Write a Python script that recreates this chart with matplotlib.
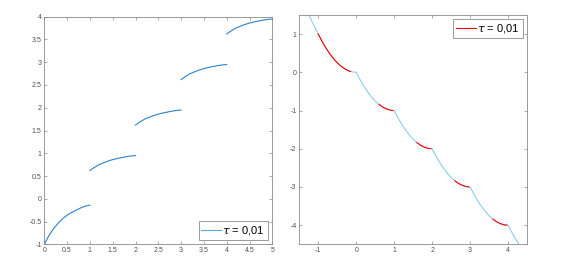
import matplotlib
matplotlib.use("Agg")
import matplotlib.pyplot as plt

plt.rcParams["font.family"] = ["Liberation Sans", "DejaVu Sans"]

# left panel: five pieces, one per unit interval
left_x = [
    [0.0, 0.1, 0.2, 0.3, 0.4, 0.5, 0.6, 0.7, 0.8, 0.9, 1.0],
    [1.0, 1.1, 1.2, 1.3, 1.4, 1.5, 1.6, 1.7, 1.8, 1.9, 2.0],
    [2.0, 2.1, 2.2, 2.3, 2.4, 2.5, 2.6, 2.7, 2.8, 2.9, 3.0],
    [3.0, 3.1, 3.2, 3.3, 3.4, 3.5, 3.6, 3.7, 3.8, 3.9, 4.0],
    [4.0, 4.1, 4.2, 4.3, 4.4, 4.5, 4.6, 4.7, 4.8, 4.9, 5.0],
]
left_y = [
    [-1.0, -0.81, -0.66, -0.54, -0.44, -0.36, -0.30, -0.25, -0.20, -0.16, -0.14],
    [0.62, 0.69, 0.75, 0.79, 0.83, 0.86, 0.885, 0.905, 0.925, 0.94, 0.95],
    [1.62, 1.69, 1.75, 1.79, 1.83, 1.86, 1.885, 1.905, 1.925, 1.94, 1.95],
    [2.62, 2.69, 2.75, 2.79, 2.83, 2.86, 2.885, 2.905, 2.925, 2.94, 2.95],
    [3.62, 3.69, 3.75, 3.79, 3.83, 3.86, 3.885, 3.905, 3.925, 3.94, 3.95],
]
left_xticks = [0, 0.5, 1, 1.5, 2, 2.5, 3, 3.5, 4, 4.5, 5]
left_xlabels = ["0", "0.5", "1", "1.5", "2", "2.5", "3", "3.5", "4", "4.5", "5"]
left_yticks = [-1, -0.5, 0, 0.5, 1, 1.5, 2, 2.5, 3, 3.5, 4]
left_ylabels = ["-1", "-0.5", "0", "0.5", "1", "1.5", "2", "2.5", "3", "3.5", "4"]

# right panel: full curve (light blue)
right_x = [-1.25, -1.2, -1.1,
           -1.0, -0.9, -0.8, -0.7, -0.6, -0.5, -0.4, -0.3, -0.2, -0.1,
           0.0, 0.1, 0.2, 0.3, 0.4, 0.5, 0.6, 0.7, 0.8, 0.9,
           1.0, 1.1, 1.2, 1.3, 1.4, 1.5, 1.6, 1.7, 1.8, 1.9,
           2.0, 2.1, 2.2, 2.3, 2.4, 2.5, 2.6, 2.7, 2.8, 2.9,
           3.0, 3.1, 3.2, 3.3, 3.4, 3.5, 3.6, 3.7, 3.8, 3.9,
           4.0, 4.1, 4.2, 4.3]
right_y = [1.5, 1.4, 1.2,
           1.0, 0.81, 0.64, 0.49, 0.36, 0.25, 0.16, 0.09, 0.04, 0.01,
           0.0, -0.19, -0.36, -0.51, -0.64, -0.75, -0.84, -0.91, -0.96, -0.99,
           -1.0, -1.19, -1.36, -1.51, -1.64, -1.75, -1.84, -1.91, -1.96, -1.99,
           -2.0, -2.19, -2.36, -2.51, -2.64, -2.75, -2.84, -2.91, -2.96, -2.99,
           -3.0, -3.19, -3.36, -3.51, -3.64, -3.75, -3.84, -3.91, -3.96, -3.99,
           -4.0, -4.19, -4.36, -4.51]

# right panel: red pieces
red_x = [
    [-1.0, -0.9, -0.8, -0.7, -0.6, -0.5, -0.4, -0.3, -0.2, -0.15],
    [0.6, 0.7, 0.8, 0.9, 0.97],
    [1.6, 1.7, 1.8, 1.9, 1.97],
    [2.6, 2.7, 2.8, 2.9, 2.97],
    [3.6, 3.7, 3.8, 3.9, 3.97],
]
red_y = [
    [1.0, 0.81, 0.64, 0.49, 0.36, 0.25, 0.16, 0.09, 0.04, 0.02],
    [-0.84, -0.91, -0.96, -0.99, -1.0],
    [-1.84, -1.91, -1.96, -1.99, -2.0],
    [-2.84, -2.91, -2.96, -2.99, -3.0],
    [-3.84, -3.91, -3.96, -3.99, -4.0],
]
right_xticks = [-1, 0, 1, 2, 3, 4]
right_yticks = [-4, -3, -2, -1, 0, 1]

legend_label = r"$\tau$ = 0,01"

blue = "#2a85cc"
light_blue = "#7cc8ec"
frame = "#8a8a8a"

fig = plt.figure(figsize=(5.67, 2.66), dpi=100)
ax1 = fig.add_axes([44.3 / 567, 1 - 244.3 / 266, 228 / 567, 227.6 / 266])
ax2 = fig.add_axes([299.3 / 567, 1 - 244.3 / 266, 227.7 / 567, 229.3 / 266])


def style(ax):
    for sp in ax.spines.values():
        sp.set_color(frame)
        sp.set_linewidth(0.6)
    ax.tick_params(direction="in", length=2.5, width=0.5, color=frame,
                   labelsize=5, labelcolor="#505050", pad=2,
                   top=True, right=True)


for xs, ys in zip(left_x, left_y):
    h1, = ax1.plot(xs, ys, color=blue, lw=0.8)
ax1.set_xlim(0, 5)
ax1.set_ylim(-1, 4)
ax1.set_xticks(left_xticks, left_xlabels)
ax1.set_yticks(left_yticks, left_ylabels)
style(ax1)
leg_h1, = ax1.plot([], [], color="#5aa6e0", lw=0.8)
l1 = ax1.legend([leg_h1], [legend_label], loc="lower right", fontsize=8,
                handlelength=1.8, handletextpad=0.1, borderpad=0.25,
                borderaxespad=0.4, fancybox=False, framealpha=1)
l1.get_frame().set_edgecolor(frame)
l1.get_frame().set_linewidth(0.6)

ax2.plot(right_x, right_y, color=light_blue, lw=0.7)
for xs, ys in zip(red_x, red_y):
    h2, = ax2.plot(xs, ys, color="red", lw=0.8)
ax2.set_xlim(-1.5, 4.5)
ax2.set_ylim(-4.5, 1.5)
ax2.set_xticks(right_xticks, [str(v) for v in right_xticks])
ax2.set_yticks(right_yticks, [str(v) for v in right_yticks])
style(ax2)
l2 = ax2.legend([h2], [legend_label], loc="upper right", fontsize=8,
                handlelength=1.8, handletextpad=0.1, borderpad=0.25,
                borderaxespad=0.4, fancybox=False, framealpha=1)
l2.get_frame().set_edgecolor(frame)
l2.get_frame().set_linewidth(0.6)

fig.savefig("out.png", dpi=100)
